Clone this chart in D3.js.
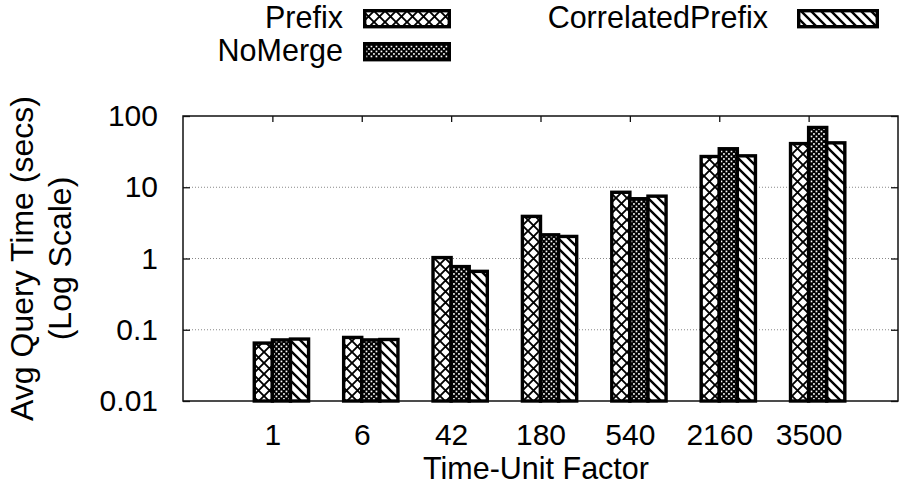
<!DOCTYPE html>
<html>
<head>
<meta charset="utf-8">
<script src="https://cdn.jsdelivr.net/npm/d3@7"></script>
<style>
  html, body { margin: 0; padding: 0; background: #fff; }
  svg { display: block; }
  text { font-family: "Liberation Sans", Arial, Helvetica, sans-serif; fill: #000; }
</style>
</head>
<body>
<svg id="chart" width="899" height="498"></svg>
<script>
// Time-unit factors (x categories)
const categories = ["1", "6", "42", "180", "540", "2160", "3500"];
const seriesNames = ["Prefix", "NoMerge", "CorrelatedPrefix"];
// Average query time in seconds per method
const prefixTimes     = [0.065, 0.078, 1.03, 3.9, 8.5, 27, 41];
const noMergeTimes    = [0.072, 0.072, 0.77, 2.15, 6.9, 34.7, 69];
const correlatedTimes = [0.074, 0.073, 0.66, 2.04, 7.5, 27.6, 42];
// Log-scale y ticks
const yTickValues = [0.01, 0.1, 1, 10, 100];
const yTickLabels = ["0.01", "0.1", "1", "10", "100"];
const gridValues = [0.1, 1, 10];

const seriesValues = [prefixTimes, noMergeTimes, correlatedTimes];
const patternIds = ["pat-cross", "pat-dots", "pat-diag"];

const svg = d3.select("#chart");
const plot = { left: 183, right: 898, top: 116, bottom: 401 };

const x = d3.scaleLinear().domain([-1, categories.length]).range([plot.left, plot.right]);
const y = d3.scaleLog().domain([0.01, 100]).range([plot.bottom, plot.top]);
const barW = 0.2025; // bar width in category units

// ---- fill patterns ----
const defs = svg.append("defs");
const pCross = defs.append("pattern").attr("id", "pat-cross")
  .attr("patternUnits", "userSpaceOnUse").attr("width", 11).attr("height", 11);
pCross.append("rect").attr("width", 11).attr("height", 11).attr("fill", "#fff");
pCross.append("path").attr("d", "M-1,-1L12,12M12,-1L-1,12")
  .attr("stroke", "#000").attr("stroke-width", 1.9).attr("fill", "none");

const pDots = defs.append("pattern").attr("id", "pat-dots")
  .attr("patternUnits", "userSpaceOnUse").attr("width", 5).attr("height", 5);
pDots.append("rect").attr("width", 5).attr("height", 5).attr("fill", "#000");
pDots.append("rect").attr("x", 0.6).attr("y", 0.6).attr("width", 1.7).attr("height", 1.7).attr("fill", "#fff");
pDots.append("rect").attr("x", 3.1).attr("y", 3.1).attr("width", 1.7).attr("height", 1.7).attr("fill", "#fff");

const pDiag = defs.append("pattern").attr("id", "pat-diag")
  .attr("patternUnits", "userSpaceOnUse").attr("width", 10).attr("height", 10);
pDiag.append("rect").attr("width", 10).attr("height", 10).attr("fill", "#fff");
pDiag.append("path").attr("d", "M-1,-1L11,11M-1,9L1,11M9,-1L11,1")
  .attr("stroke", "#000").attr("stroke-width", 2.4).attr("fill", "none");

// ---- grid lines ----
svg.append("g").selectAll("line").data(gridValues).join("line")
  .attr("x1", plot.left).attr("x2", plot.right)
  .attr("y1", d => y(d)).attr("y2", d => y(d))
  .attr("stroke", "#888").attr("stroke-width", 1).attr("stroke-dasharray", "1,2");

// ---- border ----
svg.append("rect")
  .attr("x", plot.left).attr("y", plot.top)
  .attr("width", plot.right - plot.left).attr("height", plot.bottom - plot.top)
  .attr("fill", "none").attr("stroke", "#111").attr("stroke-width", 1.5);

function styleAxis(g, size) {
  g.attr("font-family", null).attr("font-size", size);
  g.select(".domain").remove();
  g.selectAll(".tick line").attr("stroke", "#111").attr("stroke-width", 1.3);
}

// ---- y axes ----
const yAxis = d3.axisLeft(y).tickValues(yTickValues)
  .tickFormat((d, i) => yTickLabels[i]).tickSize(-7).tickPadding(25);
svg.append("g").attr("transform", `translate(${plot.left},0)`).call(yAxis).call(g => styleAxis(g, 30));
const yAxisR = d3.axisRight(y).tickValues(yTickValues).tickFormat("").tickSize(-7);
svg.append("g").attr("transform", `translate(${plot.right},0)`).call(yAxisR).call(g => styleAxis(g, 30));

// ---- x axes ----
const xAxis = d3.axisBottom(x).tickValues(d3.range(categories.length))
  .tickFormat(i => categories[i]).tickSize(-6).tickPadding(23);
svg.append("g").attr("transform", `translate(0,${plot.bottom})`).call(xAxis).call(g => styleAxis(g, 30));
const xAxisT = d3.axisTop(x).tickValues(d3.range(categories.length)).tickFormat("").tickSize(-6);
svg.append("g").attr("transform", `translate(0,${plot.top})`).call(xAxisT).call(g => styleAxis(g, 30));

// ---- bars ----
const barPx = x(barW) - x(0);
seriesValues.forEach((vals, j) => {
  svg.append("g").selectAll("rect").data(vals).join("rect")
    .attr("x", (d, i) => x(i + (j - 1) * barW))
    .attr("width", barPx)
    .attr("y", d => y(d))
    .attr("height", d => plot.bottom - y(d))
    .attr("fill", `url(#${patternIds[j]})`)
    .attr("stroke", "#000").attr("stroke-width", 3.4);
});

// ---- axis titles ----
svg.append("text").attr("x", 536).attr("y", 479).attr("text-anchor", "middle")
  .attr("font-size", 30.5).text("Time-Unit Factor");
const yTitle = ["Avg Query Time (secs)", "(Log Scale)"];
const yTitleX = [33, 71];
yTitle.forEach((t, k) => {
  svg.append("text")
    .attr("transform", `translate(${yTitleX[k]},${(plot.top + plot.bottom) / 2}) rotate(-90)`)
    .attr("text-anchor", "middle").attr("font-size", 32).text(t);
});

// ---- legend ----
const legendLayout = [
  { textX: 343, baseline: 28, boxX: 363, boxW: 88, boxY: 9 },
  { textX: 343, baseline: 61, boxX: 363, boxW: 88, boxY: 42 },
  { textX: 768, baseline: 28, boxX: 797, boxW: 82, boxY: 9 }
];
seriesNames.forEach((name, j) => {
  const L = legendLayout[j];
  svg.append("text").attr("x", L.textX).attr("y", L.baseline)
    .attr("text-anchor", "end").attr("font-size", 30.5).text(name);
  svg.append("rect")
    .attr("x", L.boxX + 1.7).attr("y", L.boxY + 1.7)
    .attr("width", L.boxW - 3.4).attr("height", 16)
    .attr("fill", `url(#${patternIds[j]})`)
    .attr("stroke", "#000").attr("stroke-width", 3.4);
});
</script>
</body>
</html>
